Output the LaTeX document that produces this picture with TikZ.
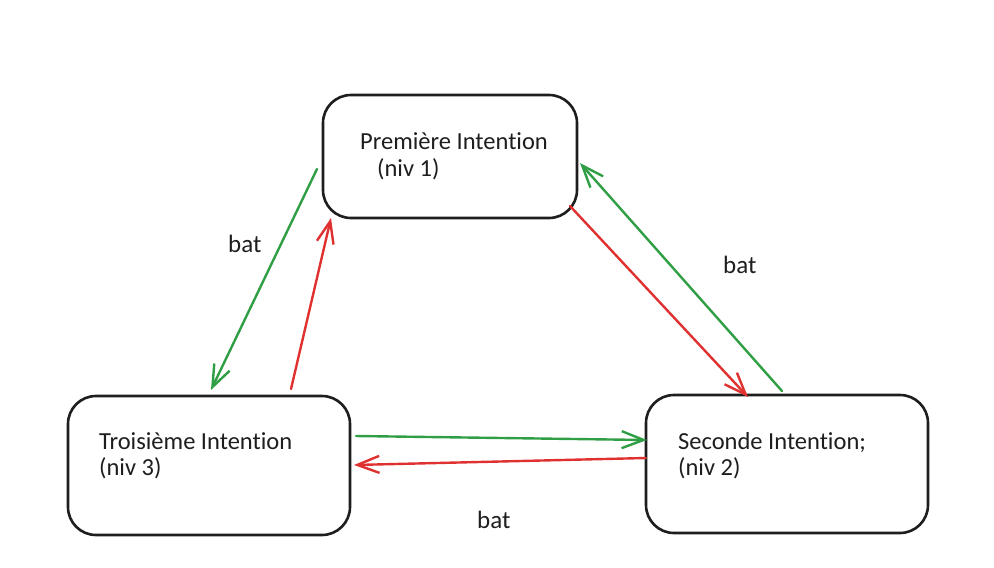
\documentclass[tikz,border=0pt]{standalone}
\usepackage{fontspec}
\setmainfont{Carlito}[Ligatures={NoCommon}]
\usetikzlibrary{arrows.meta}
\definecolor{exgreen}{HTML}{2F9E44}
\definecolor{exred}{HTML}{E03131}
\definecolor{ink}{HTML}{1E1E1E}
\begin{document}
\begin{tikzpicture}[x=1pt,y=-1pt,
  box/.style={draw=ink, line width=2.6pt, rounded corners=28pt, fill=white,
    inner sep=0pt, minimum width=#1},
  lbl/.style={anchor=base west, inner sep=0pt, text=ink, font=\fontsize{24.5}{28}\selectfont},
  batlbl/.style={anchor=base west, inner sep=0pt, text=ink, font=\fontsize{25}{28}\selectfont},
  conn/.style={line width=2.4pt, line cap=round, -{Straight Barb[length=22pt,width=17pt]}},
  gconn/.style={conn, draw=exgreen},
  rconn/.style={conn, draw=exred}]
\useasboundingbox (0,0) rectangle (994,568);
% boxes
\node[box=254pt, minimum height=123pt] (p1) at (450,156.5) {};
\node[box=282pt, minimum height=139pt] (p3) at (209,465.5) {};
\node[box=282pt, minimum height=138pt] (p2) at (787,464) {};
% texts
\node[lbl] (t1a) at (360,149) {Première Intention};
\node[lbl] (t1b) at (377,176) {(niv 1)};
\node[lbl] (t3a) at (99,449) {Troisième Intention};
\node[lbl] (t3b) at (99,475) {(niv 3)};
\node[lbl] (t2a) at (678,449) {Seconde Intention;};
\node[lbl] (t2b) at (678,475) {(niv 2)};
% connector end points
\coordinate (g1s) at (317,169);
\coordinate (g1e) at (211,390);
\coordinate (r1s) at (291,389);
\coordinate (r1e) at (331,218);
\coordinate (r2s) at (570,206);
\coordinate (r2e) at (748,397);
\coordinate (g2s) at (782,391);
\coordinate (g2e) at (580,163);
\coordinate (g3s) at (356,436);
\coordinate (g3e) at (647,440);
\coordinate (r3s) at (646,458);
\coordinate (r3e) at (354,465);
% connectors
\draw[gconn] (g1s) -- (g1e);
\draw[rconn] (r1s) -- (r1e);
\draw[rconn] (r2s) -- (r2e);
\draw[gconn] (g2s) -- (g2e);
\draw[gconn] (g3s) -- (g3e);
\draw[rconn] (r3s) -- (r3e);
% labels
\node[batlbl] (b1) at (228,252) {bat};
\node[batlbl] (b2) at (723,273) {bat};
\node[batlbl] (b3) at (477,528) {bat};
\end{tikzpicture}
\end{document}
